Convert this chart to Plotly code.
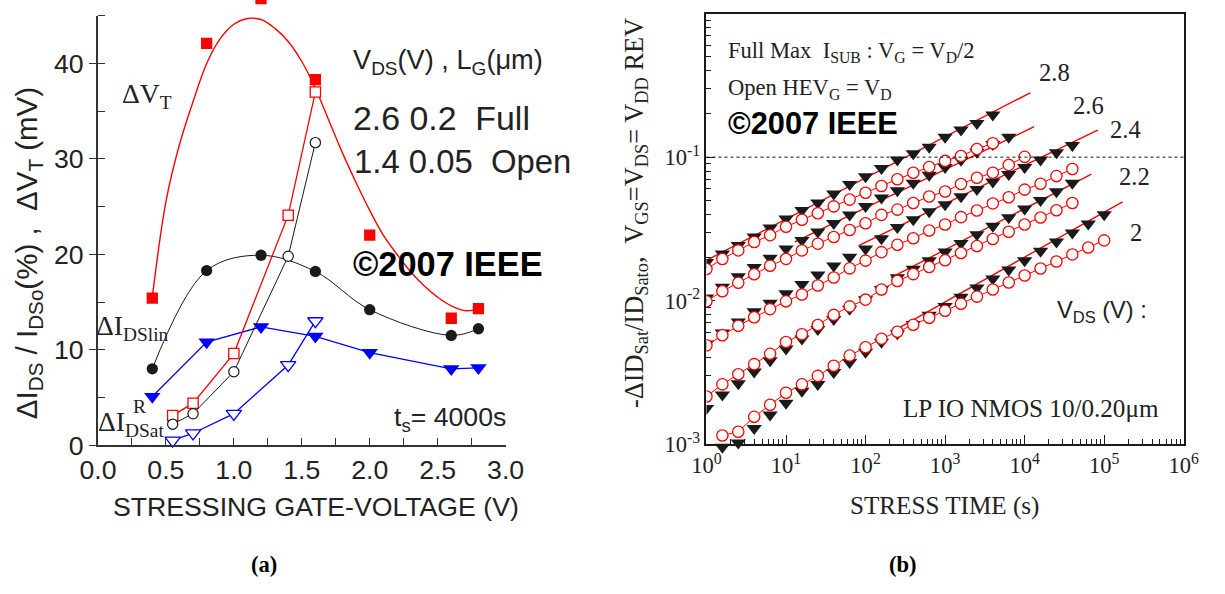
import plotly.graph_objects as go

W, H = 1225, 594
# The photographed page shows the figure inside a thin white border and
# scaled back to 1225x594; positions below are given in screenshot pixels
# and converted to figure pixels here (calibrated against earlier photographs).
PAD = 16
SX = W / (W + 2 * PAD)
SY = H / (H + 2 * PAD)
def fx(x): return (x - PAD * SX) / SX
def fy(y):
    y = y + 6.5 - 4 * (y - 20) / 430.0
    return (y - PAD * SY) / SY
def px(x): return fx(x) / W
def py(y): return 1 - fy(y) / H
def fs(s): return s / SX          # horizontal text / marker size
def fsv(s): return s / SY         # vertical (rotated text) size

SANS = "Liberation Sans, Arial, sans-serif"
SERIF = "Liberation Serif, Times New Roman, serif"
RED, BLUE, BLK, TXT = "#ff0000", "#0000ff", "#1a1a1a", "#222222"

# ---------------- panel (a) data ----------------
vg_full = [0.4, 0.8, 1.2, 1.6, 2.0, 2.6, 2.8]
dvt_full = [15.4, 42.1, 46.8, 38.3, 22.0, 13.3, 14.3]
didlin_full = [8.0, 18.3, 19.9, 18.2, 14.2, 11.5, 12.2]
didsat_full = [5.1, 10.8, 12.4, 11.4, 9.7, 8.0, 8.1]

vg_open = [0.55, 0.7, 1.0, 1.4, 1.6]
dvt_open = [3.1, 4.4, 9.6, 24.1, 37.0]
didlin_open = [2.2, 3.3, 7.7, 19.8, 31.7]
didsat_open = [0.5, 1.25, 3.3, 8.4, 13.0]

# fitted trend drawn through the dVT (full) points
dvt_fit_v = [0.4, 0.5, 0.6, 0.7, 0.8, 0.9, 1.0, 1.1, 1.2, 1.3, 1.4, 1.5, 1.6,
             1.7, 1.8, 1.9, 2.0, 2.1, 2.2, 2.3, 2.4, 2.5, 2.6, 2.7, 2.8]
dvt_fit = [15.5, 25.5, 31.5, 36.0, 40.0, 42.6, 44.1, 44.7, 44.6, 43.7, 42.3,
           40.2, 37.4, 34.0, 30.6, 27.5, 24.6, 22.0, 20.0, 18.2, 16.7, 15.5,
           14.6, 14.1, 14.2]

xa_ticks = [0.0, 0.5, 1.0, 1.5, 2.0, 2.5, 3.0]
ya_ticks = [0, 10, 20, 30, 40]

# ---------------- panel (b) data ----------------
t_all = [1, 1.585, 2.512, 3.981, 6.31, 10, 15.85, 25.12, 39.81, 63.1, 100,
         158.5, 251.2, 398.1, 631, 1000, 1585, 2512, 3981, 6310, 10000,
         15850, 25120, 39810, 63100, 100000]

open_28 = [0.0166, 0.0195, 0.0224, 0.0256, 0.0286, 0.0327, 0.0366, 0.0407,
           0.0454, 0.0506, 0.0565, 0.0630, 0.0702, 0.0778, 0.0853, 0.0942,
           0.102, 0.114, 0.125]
full_28 = [0.0185, 0.0212, 0.0243, 0.0278, 0.0322, 0.0372, 0.0426, 0.0480,
           0.0556, 0.0647, 0.0733, 0.0836, 0.0957, 0.106, 0.1175, 0.138,
           0.155, 0.172, 0.197]
open_26 = [0.00989, 0.01164, 0.01334, 0.01528, 0.0175, 0.01954, 0.02239,
           0.02495, 0.0278, 0.03105, 0.0346, 0.0396, 0.0431, 0.0479, 0.0532,
           0.0577, 0.0650, 0.0718, 0.0778, 0.0883, 0.1005]
full_26 = [0.01047, 0.01245, 0.01472, 0.01706, 0.01977, 0.0230, 0.02636,
           0.0302, 0.0346, 0.0396, 0.0454, 0.0520, 0.0586, 0.0661, 0.0750,
           0.0851, 0.0955, 0.1084, 0.123, 0.138]
open_24 = [0.00488, 0.00574, 0.00668, 0.00766, 0.00873, 0.00989, 0.01104,
           0.01276, 0.01449, 0.01679, 0.01901, 0.02178, 0.02455, 0.0272,
           0.0308, 0.0339, 0.0382, 0.0425, 0.0476, 0.0525, 0.0594, 0.0653,
           0.0738, 0.0826]
full_24 = [0.00501, 0.00596, 0.00713, 0.00840, 0.00962, 0.01122, 0.01297,
           0.01514, 0.0175, 0.0201, 0.0230, 0.0271, 0.0324, 0.0367, 0.0417,
           0.0468, 0.0531, 0.0596, 0.0673, 0.0759, 0.0851, 0.0959, 0.1076,
           0.1208]
open_22 = [0.00215, 0.00261, 0.00307, 0.00361, 0.00426, 0.00515, 0.00583,
           0.00676, 0.00796, 0.00912, 0.01016, 0.01197, 0.01371, 0.01531,
           0.01718, 0.01914, 0.02148, 0.0240, 0.0269, 0.0302, 0.0339, 0.0380,
           0.0427, 0.0479]
full_22 = [0.00178, 0.00221, 0.00264, 0.00319, 0.00382, 0.00461, 0.00543,
           0.00630, 0.00741, 0.00873, 0.01016, 0.01197, 0.01449, 0.0166,
           0.01905, 0.02188, 0.02512, 0.02884, 0.0331, 0.0380, 0.04365,
           0.0501, 0.0575, 0.0661]
open_20 = [0.00115, 0.00122, 0.00155, 0.00188, 0.00228, 0.00261, 0.00299,
           0.00352, 0.00414, 0.00474, 0.00543, 0.00607, 0.00679, 0.00759,
           0.00851, 0.00951, 0.01067, 0.01197, 0.01337, 0.01496, 0.01675,
           0.01875, 0.0210, 0.02344, 0.0263]
full_20 = [0.000955, 0.00102, 0.00129, 0.0016, 0.00193, 0.00234, 0.00261,
           0.00316, 0.00372, 0.00438, 0.00515, 0.0059, 0.00684, 0.00794,
           0.00912, 0.01059, 0.0123, 0.01419, 0.01641, 0.01905, 0.02213,
           0.0257, 0.02965, 0.0343, 0.0398]

# which slice of t_all each series uses: (start, stop)
open_span = {"2.8": (0, 19), "2.6": (0, 21), "2.4": (0, 24), "2.2": (0, 24), "2": (1, 26)}
full_span = {"2.8": (0, 19), "2.6": (0, 20), "2.4": (0, 24), "2.2": (0, 24), "2": (1, 26)}
open_vals = {"2.8": open_28, "2.6": open_26, "2.4": open_24, "2.2": open_22, "2": open_20}
full_vals = {"2.8": full_28, "2.6": full_26, "2.4": full_24, "2.2": full_22, "2": full_20}

# power-law fit lines (end points) for the full-stress data
fit_vds = ["2.8", "2.6", "2.4", "2.2", "2"]
fit_t0 = [1, 12.9, 83, 209, 257]
fit_y0 = [0.0191, 0.0257, 0.0243, 0.01445, 0.0064]
fit_t1 = [11750, 13180, 83000, 69200, 170000]
fit_y1 = [0.281, 0.163, 0.1545, 0.0762, 0.0488]

xb_exp = [0, 1, 2, 3, 4, 5, 6]
yb_exp = [-3, -2, -1, 0]
ref_level = 0.1

# ---------------- geometry (screenshot pixels) ----------------
AX0, AX1, AY0, AY1 = 95, 505, 446, 24        # panel (a): x=0..3, y=0..45
BX0, BX1, BY0, BY1 = 707, 1187, 445, 22      # panel (b): 1..1e6, 1e-3..1
BY_EXT = 462                                  # extended bottom for overflow marks
ka = (fy(AY0) - fy(AY1)) / 45.0               # figure px per unit, panel (a)
kb = (fy(BY0) - fy(BY1)) / 3.0                # figure px per decade, panel (b)

fig = go.Figure()

# ---------- panel (a) traces ----------
A = dict(xaxis="x", yaxis="y", showlegend=False, cliponaxis=False)
fig.add_trace(go.Scatter(x=dvt_fit_v, y=dvt_fit, mode="lines",
                         line=dict(color=RED, width=1.4, shape="spline"), **A))
fig.add_trace(go.Scatter(x=vg_full, y=didlin_full, mode="lines+markers",
                         line=dict(color=BLK, width=1, shape="spline"),
                         marker=dict(symbol="circle", size=fs(11), color=BLK), **A))
fig.add_trace(go.Scatter(x=vg_full, y=didsat_full, mode="lines+markers",
                         line=dict(color=BLUE, width=1.3),
                         marker=dict(symbol="triangle-down", size=fs(14), color=BLUE), **A))
fig.add_trace(go.Scatter(x=vg_open, y=dvt_open, mode="lines+markers",
                         line=dict(color=RED, width=1.3),
                         marker=dict(symbol="square", size=fs(10), color="white",
                                     line=dict(color=RED, width=1.3)), **A))
fig.add_trace(go.Scatter(x=vg_open, y=didlin_open, mode="lines+markers",
                         line=dict(color=BLK, width=1),
                         marker=dict(symbol="circle", size=fs(10), color="white",
                                     line=dict(color=BLK, width=1.2)), **A))
fig.add_trace(go.Scatter(x=vg_open, y=didsat_open, mode="lines+markers",
                         line=dict(color=BLUE, width=1.3),
                         marker=dict(symbol="triangle-down", size=fs(13), color="white",
                                     line=dict(color=BLUE, width=1.3)), **A))
# full dVT squares on a same-scale overlay axis reaching the top of the canvas
fig.add_trace(go.Scatter(x=vg_full, y=dvt_full, mode="markers", xaxis="x", yaxis="y3",
                         showlegend=False,
                         marker=dict(symbol="square", size=fs(11), color=RED)))

# ---------- panel (b) traces ----------
for v in fit_vds:
    s, e = full_span[v]
    fig.add_trace(go.Scatter(x=t_all[s:e], y=full_vals[v], mode="markers",
                             xaxis="x2", yaxis="y4", showlegend=False,
                             marker=dict(symbol="triangle-down", size=fs(13), color=BLK)))
for v in fit_vds:
    s, e = open_span[v]
    fig.add_trace(go.Scatter(x=t_all[s:e], y=open_vals[v], mode="lines+markers",
                             xaxis="x2", yaxis="y4", showlegend=False,
                             line=dict(color=RED, width=1),
                             marker=dict(symbol="circle", size=fs(11), color="white",
                                         line=dict(color=RED, width=1.3))))
for i, v in enumerate(fit_vds):
    fig.add_trace(go.Scatter(x=[fit_t0[i], fit_t1[i]], y=[fit_y0[i], fit_y1[i]],
                             xaxis="x2", yaxis="y2", showlegend=False,
                             mode="lines", line=dict(color=RED, width=1.4)))

fig.add_shape(type="line", xref="x2 domain", yref="y2", x0=0, x1=1,
              y0=ref_level, y1=ref_level, line=dict(color=BLK, width=1, dash="dot"))

# ---------- axes ----------
fig.update_layout(
    width=W, height=H, autosize=False,
    margin=dict(l=0, r=0, t=0, b=0),
    paper_bgcolor="white", plot_bgcolor="rgba(0,0,0,0)",
    xaxis=dict(domain=[px(AX0), px(AX1)], anchor="y", range=[0, 3],
               tickvals=xa_ticks, ticktext=["%.1f" % v for v in xa_ticks],
               ticks="inside", ticklen=fsv(7), tickwidth=1.2, tickcolor="#333",
               minor=dict(dtick=0.25, ticks="inside", ticklen=fsv(7), tickwidth=1.2,
                          tickcolor="#333"),
               showline=True, linecolor="#333", linewidth=1.5, showgrid=False, zeroline=False,
               tickfont=dict(family=SANS, size=fs(26), color=TXT)),
    yaxis=dict(domain=[py(AY0), py(AY1)], anchor="x", range=[0, 45],
               tickvals=ya_ticks, ticks="outside", ticklen=fs(7), tickwidth=1.2, tickcolor="#333",
               minor=dict(dtick=5, ticks="inside", ticklen=fs(7), tickwidth=1.2, tickcolor="#333"),
               showline=True, linecolor="#333", linewidth=1.5, showgrid=False, zeroline=False,
               tickfont=dict(family=SANS, size=fs(26), color=TXT)),
    yaxis3=dict(domain=[py(AY0), 1], anchor="x", range=[0, fy(AY0) / ka],
                visible=False, showgrid=False, zeroline=False),
    xaxis2=dict(domain=[px(BX0), px(BX1)], anchor="y2", type="log", range=[0, 6],
                tickvals=[10 ** e for e in xb_exp],
                ticktext=["10<sup>%d</sup>" % e for e in xb_exp],
                ticks="inside", ticklen=fsv(9), tickwidth=1.2, tickcolor=BLK,
                minor=dict(dtick="D1", ticks="inside", ticklen=fsv(5), tickwidth=1,
                           tickcolor=BLK),
                showline=True, mirror=True, linecolor=BLK, linewidth=1.6,
                showgrid=False, zeroline=False,
                tickfont=dict(family=SERIF, size=fs(22), color=TXT)),
    yaxis2=dict(domain=[py(BY0), py(BY1)], anchor="x2", type="log", range=[-3, 0],
                tickvals=[10 ** e for e in yb_exp],
                ticktext=["10<sup>%d</sup>" % e for e in yb_exp],
                ticks="inside", ticklen=fs(9), tickwidth=1.2, tickcolor=BLK,
                minor=dict(dtick="D1", ticks="inside", ticklen=fs(5), tickwidth=1,
                           tickcolor=BLK),
                showline=True, mirror=True, linecolor=BLK, linewidth=1.6,
                showgrid=False, zeroline=False,
                tickfont=dict(family=SERIF, size=fs(22), color=TXT)),
    yaxis4=dict(domain=[py(BY_EXT), py(BY1)], anchor="x2", type="log",
                range=[-3 - (fy(BY_EXT) - fy(BY0)) / kb, 0],
                visible=False, showgrid=False, zeroline=False),
)

# ---------- text ----------
def note(text, x, y, size, family=SANS, xanchor="center", angle=0, bold=False, color=TXT):
    if bold:
        text = "<b>%s</b>" % text
    size = fsv(size) if angle else fs(size)
    fig.add_annotation(text=text, x=px(x), y=py(y), xref="paper", yref="paper",
                       showarrow=False, xanchor=xanchor, yanchor="middle",
                       textangle=angle, font=dict(family=family, size=size, color=color))

# panel (a)
note("ΔI<sub>DS</sub> / I<sub>DSo</sub>(%) ,  ΔV<sub>T</sub> (mV)", 25, 257, 28, angle=-90)
note("STRESSING GATE-VOLTAGE (V)", 314, 507, 26)
note("ΔV<sub>T</sub>", 144, 102, 27, family=SERIF)
note("ΔI<sub>DSlin</sub>", 130, 330, 27, family=SERIF)
note("ΔI<sub>DSat</sub>", 128, 425, 27, family=SERIF)
note("R", 137, 408, 19, family=SERIF)
note("t<sub>s</sub>= 4000s", 449, 420, 26)
note("V<sub>DS</sub>(V) , L<sub>G</sub>(μm)", 350, 69, 26.5, xanchor="left")
note("2.6 0.2  Full", 350, 125, 33, xanchor="left")
note("1.4 0.05  Open", 351, 167, 32, xanchor="left")
note("©2007 IEEE", 350, 268, 33.5, xanchor="left", bold=True, color="#000")
note("(a)", 262, 563, 22, family=SERIF, bold=True, color="#000")

# panel (b)
note("-ΔID<sub>Sat</sub>/ID<sub>Sato</sub>,  V<sub>GS</sub>=V<sub>DS</sub>= V<sub>DD</sub> REV",
     636, 218, 25, family=SERIF, angle=-90)
note("STRESS TIME (s)", 946, 506, 24.5, family=SERIF)
note("Full Max  I<sub>SUB</sub> : V<sub>G</sub> = V<sub>D</sub>/2", 727, 60, 22,
     family=SERIF, xanchor="left")
note("Open HEV<sub>G</sub> = V<sub>D</sub>", 727, 96, 22, family=SERIF, xanchor="left")
note("©2007 IEEE", 727, 130, 30, xanchor="left", bold=True, color="#000")
for lab, lx, ly in zip(fit_vds, [1057, 1091, 1128, 1137, 1139], [80, 112, 136, 182, 237]):
    note(lab, lx, ly, 24, family=SERIF)
note("V<sub>DS</sub> (V) :", 1105, 315, 23)
note("LP IO NMOS 10/0.20μm", 1033, 410, 24.5, family=SERIF)
note("(b)", 905, 563, 22, family=SERIF, bold=True, color="#000")

fig.write_html("out.html")
